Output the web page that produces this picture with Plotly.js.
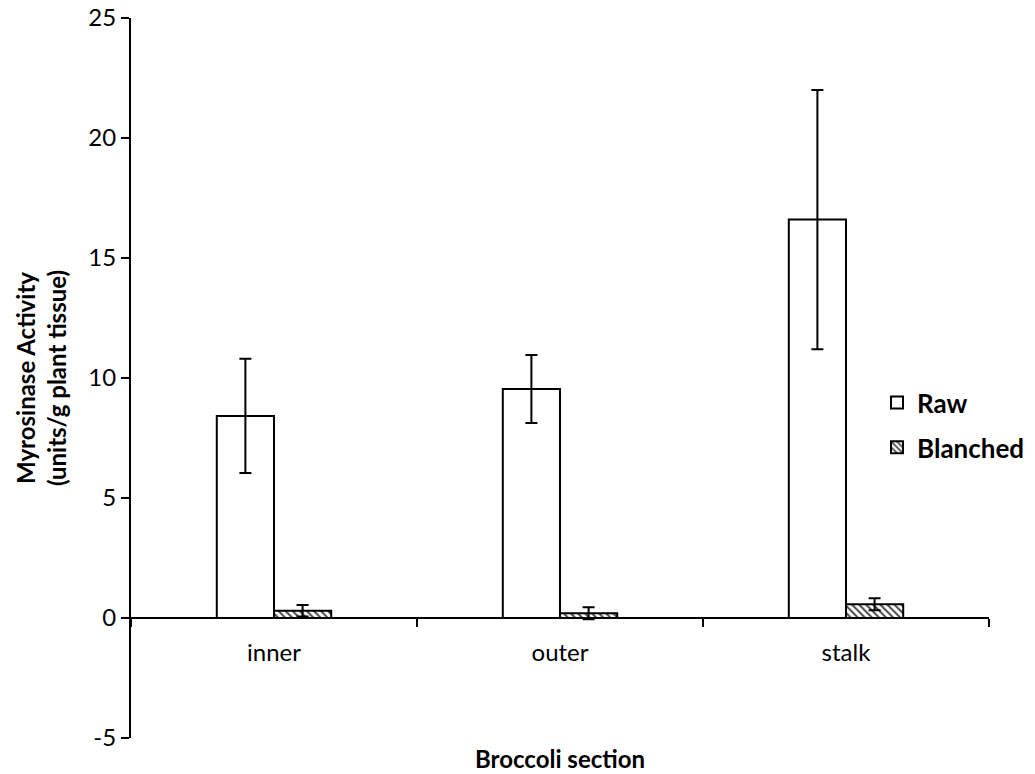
<!DOCTYPE html>
<html>
<head>
<meta charset="utf-8">
<script src="https://cdn.plot.ly/plotly-3.0.1.min.js"></script>
<style>html,body{margin:0;padding:0;background:#fff;}#chart{width:1035px;height:774px;}</style>
</head>
<body>
<div id="chart"></div>
<script>
const categories = ["inner", "outer", "stalk"];
const rawValues = [8.42, 9.54, 16.6];
const rawErrors = [2.38, 1.42, 5.4];
const blanchedValues = [0.3, 0.2, 0.57];
const blanchedErrors = [0.24, 0.25, 0.25];
const yTicks = [-5, 0, 5, 10, 15, 20, 25];

const FONT = "Lato, 'Open Sans', sans-serif";

const traces = [
  {
    type: "bar", name: "Raw", x: categories, y: rawValues,
    legendgroup: "a",
    marker: {color: "#ffffff", line: {color: "#000000", width: 2}},
    error_y: {type: "data", array: rawErrors, visible: true, color: "#000000", thickness: 2, width: 6}
  },
  {
    type: "bar", name: "Blanched", x: categories, y: blanchedValues,
    legendgroup: "b",
    marker: {color: "#ffffff", line: {color: "#000000", width: 2},
      pattern: {shape: "\\", fgcolor: "#444444", bgcolor: "#ffffff", size: 5, solidity: 0.4}},
    error_y: {type: "data", array: blanchedErrors, visible: true, color: "#000000", thickness: 2, width: 6}
  }
];

const layout = {
  width: 1035, height: 774,
  paper_bgcolor: "#ffffff", plot_bgcolor: "#ffffff",
  margin: {l: 131, r: 46, t: 18, b: 36, autoexpand: false},
  font: {family: FONT, size: 24, color: "#000000"},
  barmode: "group", bargap: 0.6, bargroupgap: 0,
  showlegend: true,
  legend: {x: 0.8695, y: 0.4345, xanchor: "left", yanchor: "middle",
    font: {family: FONT, size: 26, color: "#000000", weight: "bold"},
    tracegroupgap: 8, itemwidth: 30, bgcolor: "rgba(0,0,0,0)"},
  xaxis: {
    type: "category", anchor: "free", position: 1/6,
    showline: true, linecolor: "#000000", linewidth: 2,
    ticks: "outside", ticklen: 8, tickwidth: 2, tickcolor: "#000000",
    tickson: "boundaries", showgrid: false, zeroline: false,
    tickfont: {family: FONT, size: 24, color: "#000000"},
    ticklabelstandoff: 13
  },
  yaxis: {
    range: [-5, 25], tickvals: yTicks, ticktext: yTicks.map(String),
    showline: true, linecolor: "#000000", linewidth: 2,
    ticks: "outside", ticklen: 8, tickwidth: 2, tickcolor: "#000000",
    showgrid: false, zeroline: false,
    tickfont: {family: FONT, size: 24, color: "#000000"},
    ticklabelstandoff: 0,
    title: {text: "Myrosinase Activity<br>(units/g plant tissue)", standoff: 15,
      font: {family: FONT, size: 24, color: "#000000", weight: "bold"}}
  },
  annotations: [
    {text: "Broccoli section", xref: "paper", yref: "paper", x: 0.5, y: -0.028,
     xanchor: "center", yanchor: "middle", showarrow: false,
     font: {family: FONT, size: 24, color: "#000000", weight: "bold"}}
  ]
};

Plotly.newPlot("chart", traces, layout, {displayModeBar: false, staticPlot: true});
</script>
</body>
</html>
